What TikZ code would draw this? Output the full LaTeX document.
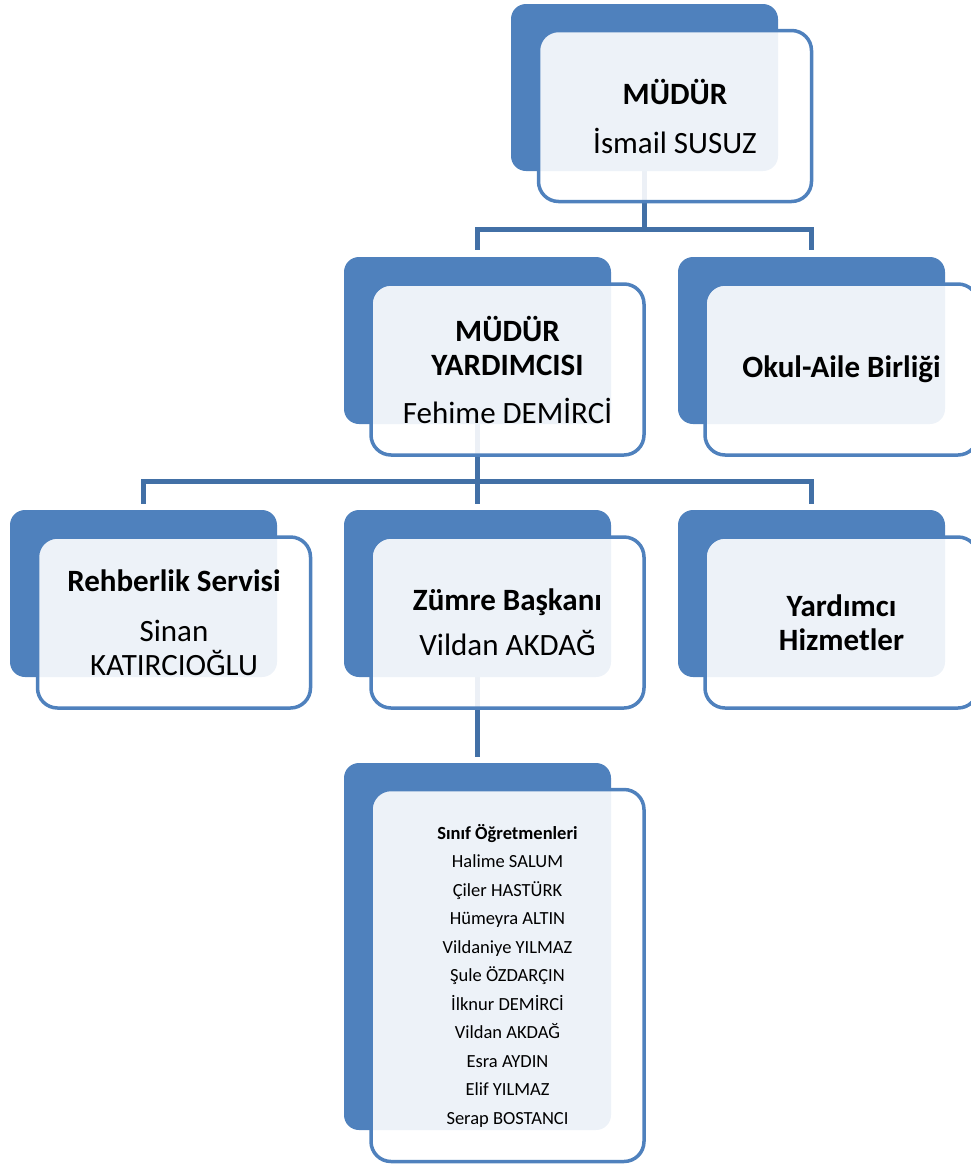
\documentclass[tikz,border=0pt]{standalone}
\usepackage{fontspec}
\setmainfont{Carlito}
\usetikzlibrary{backgrounds}
\definecolor{ofisblue}{RGB}{79,129,189}
\definecolor{hatblue}{RGB}{66,112,166}
\begin{document}
\begin{tikzpicture}[x=1pt, y=-1pt,
  arka/.style={fill=ofisblue, rounded corners=15pt, inner sep=0pt, minimum width=267pt, minimum height=167pt},
  on/.style={draw=ofisblue, line width=3.5pt, fill=white, fill opacity=0.9, text opacity=1, rounded corners=20pt, inner sep=0pt, minimum width=273pt, minimum height=171pt, align=center, font=\fontsize{31}{34}\selectfont},
  hat/.style={draw=hatblue, line width=5pt}]
\useasboundingbox (0,0) rectangle (970,1168);

\node[arka] (mudurB) at (644.5,87.5) {};
\node[on] (mudurF) at (675,116) {\textbf{MÜDÜR}\\[15pt]İsmail SUSUZ};

\node[arka] (yrdB) at (477.5,340.5) {};
\node[on] (yrdF) at (507.5,369.5) {\textbf{MÜDÜR}\\\textbf{YARDIMCISI}\\[14pt]Fehime DEMİRCİ};

\node[arka] (okulB) at (811.5,340.5) {};
\node[on] (okulF) at (841.5,369.5) {\textbf{Okul-Aile Birliği}};

\node[arka] (rehB) at (143.5,593.5) {};
\node[on] (rehF) at (174,622.5) {\textbf{Rehberlik Servisi}\\[16pt]Sinan\\KATIRCIOĞLU};

\node[arka] (zumB) at (477.5,593.5) {};
\node[on] (zumF) at (507.5,622.5) {\textbf{Zümre Başkanı}\\[11pt]Vildan AKDAĞ};

\node[arka] (yrdmB) at (811.5,593.5) {};
\node[on] (yrdmF) at (841.5,622.5) {\textbf{Yardımcı}\\\textbf{Hizmetler}};

\node[arka, minimum height=367pt] (listB) at (477.5,946.5) {};
\node[on, minimum height=372pt, font=\fontsize{18.5}{28.5}\selectfont] (listF) at (507.5,975.5)
  {\textbf{Sınıf Öğretmenleri}\\Halime SALUM\\Çiler HASTÜRK\\Hümeyra ALTIN\\Vildaniye YILMAZ\\Şule ÖZDARÇIN\\İlknur DEMİRCİ\\Vildan AKDAĞ\\Esra AYDIN\\Elif YILMAZ\\Serap BOSTANCI};

\coordinate (busA) at (644.5,229.5);
\coordinate (busB) at (477.5,481.5);
\begin{pgfonlayer}{background}
\draw[hat] (mudurB.south) -- (busA);
\draw[hat, shorten <=7pt, shorten >=7pt] (yrdB.north) |- (busA) -| (okulB.north);
\draw[hat] (yrdB.south) -- (busB);
\draw[hat, shorten <=6pt, shorten >=6pt] (rehB.north) |- (busB) -| (yrdmB.north);
\draw[hat, shorten >=6pt] (busB) -- (zumB.north);
\draw[hat, shorten >=6pt] (zumB.south) -- (listB.north);
\end{pgfonlayer}
\end{tikzpicture}
\end{document}
